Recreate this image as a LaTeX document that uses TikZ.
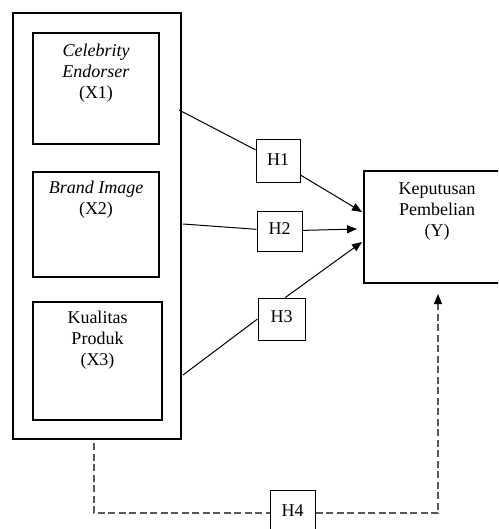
\documentclass[tikz,border=0pt]{standalone}
\usepackage{fontspec}
\setmainfont{Liberation Serif}
\usetikzlibrary{positioning, arrows.meta}

\begin{document}
\begin{tikzpicture}[x=1pt, y=-1pt, font=\fontsize{18}{21}\selectfont,
		b/.style={draw, line width=1.6pt, inner sep=0pt},
		h/.style={draw, line width=1pt, inner sep=0pt, text depth=4pt},
		t/.style={align=center, inner sep=0pt},
		tip/.style={-{Triangle[length=10pt, width=8pt, color=black]}},
		hyp/.style={draw=black!65, line width=1.3pt, dash pattern=on 7pt off 3.5pt}]
		\clip (0,0) rectangle (498,529);

		\node [b, minimum width=168pt, minimum height=426pt] (V) at (97,226) {};
		\node [b, minimum width=126pt, minimum height=111pt] (X1) at (96,88.5) {};
		\node [b, minimum width=126pt, minimum height=105pt] (X2) at (96,224.5) {};
		\node [b, minimum width=129pt, minimum height=118pt] (X3) at (97.5,361) {};
		\node [b, minimum width=146pt, minimum height=112pt] (Y) at (437,227) {};

		\node [t, below=12pt of X1.north] (X1t) {\textit{Celebrity}\\\textit{Endorser}\\(X1)};
		\node [t, below=10pt of X2.north] (X2t) {\textit{Brand Image}\\(X2)};
		\node [t, below=10pt of X3.north] (X3t) {Kualitas\\Produk\\(X3)};
		\node [t, below=12pt of Y.north] (Yt) {Keputusan\\Pembelian\\(Y)};

		\node [h, minimum width=44pt, minimum height=43pt] (H1) at (278,161.5) {H1};
		\node [h, minimum width=45pt, minimum height=40pt] (H2) at (279.5,231) {H2};
		\node [h, minimum width=47pt, minimum height=42pt] (H3) at (281.5,319) {H3};
		\node [h, minimum width=45pt, minimum height=46pt] (H4) at (292.5,513) {H4};

		\coordinate (s1) at (179,110);
		\coordinate (s2) at (183,224);
		\coordinate (s3) at (183,375);
		\coordinate (t1) at (362,212);
		\coordinate (t2) at (357,229);
		\coordinate (t3) at (362,242);
		\coordinate (d0) at (94,443);
		\coordinate (t4) at (438,294);

		\path[line width=1pt] (s1) edge (H1);
		\path[line width=1pt, tip] (H1) edge (t1);
		\path[line width=1pt] (s2) edge (H2);
		\path[line width=1pt, tip] (H2) edge (t2);
		\path[line width=1pt] (s3) edge (H3.west);
		\path[line width=1pt, tip] (H3.80) edge (t3);
		\draw[hyp] (d0) |- (H4.west);
		\draw[hyp, tip] (H4.east) -| (t4);
	\end{tikzpicture}
\end{document}
